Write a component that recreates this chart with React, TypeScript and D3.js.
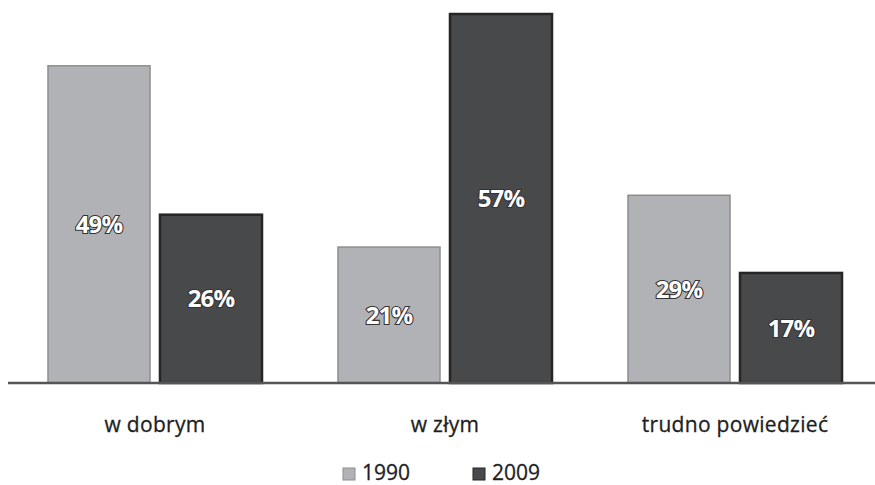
import * as d3 from "d3";

const categories = ["w dobrym", "w złym", "trudno powiedzieć"];
const seriesNames = ["1990", "2009"];
const values1990 = [49, 21, 29];
const values2009 = [26, 57, 17];

const fills = ["#b1b2b5", "#48494b"];
const strokes = ["#8d8e91", "#262626"];

export default function App() {
  const width = 875;
  const height = 485;
  const baseline = 383;
  const top = 14;

  const series = [values1990, values2009];

  const x0 = d3.scaleBand<string>()
    .domain(categories)
    .range([10, 880])
    .paddingInner(0.262)
    .paddingOuter(0.131);

  const x1 = d3.scaleBand<string>()
    .domain(seriesNames)
    .range([0, x0.bandwidth()])
    .paddingInner(0.089);

  const y = d3.scaleLinear()
    .domain([0, d3.max([...values1990, ...values2009]) as number])
    .range([baseline, top]);

  return (
    <svg
      width={width}
      height={height}
      style={{ position: "absolute", left: 0, top: 0, background: "#fff" }}
    >
      {categories.map((cat, i) => (
        <g key={cat} transform={`translate(${x0(cat)},0)`}>
          {seriesNames.map((s, j) => {
            const v = series[j][i];
            const bx = x1(s) as number;
            const by = y(v);
            return (
              <g key={s}>
                <rect
                  x={bx}
                  y={by}
                  width={x1.bandwidth()}
                  height={baseline - by}
                  fill={fills[j]}
                  stroke={strokes[j]}
                  strokeWidth={j === 0 ? 1.5 : 2.5}
                />
                <text
                  x={bx + x1.bandwidth() / 2}
                  y={(by + baseline) / 2}
                  dy="0.36em"
                  textAnchor="middle"
                  fontFamily="'Open Sans', sans-serif"
                  fontWeight="bold"
                  fontSize={24}
                  fill="#fff"
                  stroke="#333"
                  strokeWidth={2.2}
                  paintOrder="stroke"
                  letterSpacing={-0.8}
                >
                  {v}%
                </text>
              </g>
            );
          })}
          <text
            x={x0.bandwidth() / 2}
            y={432}
            textAnchor="middle"
            fontFamily="'Open Sans', sans-serif"
            fontSize={21}
            fill="#1e1e1e"
            stroke="#1e1e1e"
            strokeWidth={0.3}
            letterSpacing={0.3}
          >
            {cat}
          </text>
        </g>
      ))}

      <line x1={8} x2={875} y1={baseline} y2={baseline} stroke="#555" strokeWidth={2.5} />

      {seriesNames.map((s, j) => {
        const lx = 343 + j * 130;
        return (
          <g key={s} transform={`translate(${lx},467)`}>
            <rect x={0} y={1} width={12} height={12} fill={fills[j]} stroke={strokes[j]} strokeWidth={1} />
            <text
              x={19}
              y={13}
              fontFamily="'Open Sans', sans-serif"
              fontSize={21}
              fill="#1e1e1e"
              stroke="#1e1e1e"
              strokeWidth={0.3}
            >
              {s}
            </text>
          </g>
        );
      })}
    </svg>
  );
}
